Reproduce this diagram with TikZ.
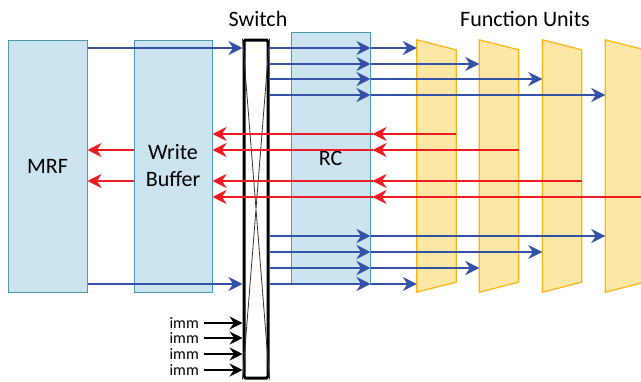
\documentclass[tikz,border=0pt]{standalone}
\usepackage{fontspec}
\setmainfont{Carlito}
\usetikzlibrary{shapes, positioning, arrows.meta, calc}
\definecolor{busblue}{RGB}{52,83,166}
\definecolor{busred}{RGB}{237,28,36}
\definecolor{boxfill}{RGB}{203,228,240}
\definecolor{boxline}{RGB}{75,155,175}
\definecolor{fufill}{RGB}{252,231,164}
\definecolor{fuline}{RGB}{252,180,20}

\begin{document}
\begin{tikzpicture}[x=1pt, y=-1pt, font=\fontsize{22}{26}\selectfont]
\tikzset{regbox/.style={draw=boxline, fill=boxfill, line width=1pt, rectangle, minimum width=79pt, minimum height=252pt, inner sep=0pt, align=center}, fuslot/.style={rectangle, minimum width=39pt, minimum height=252pt, inner sep=0pt}, fushape/.style={draw=fuline, fill=fufill, line width=1.2pt}, xbar/.style={draw=black, fill=white, line width=3pt, rounded corners=1.5pt, minimum width=24pt, minimum height=338pt, inner sep=0pt}, fwd/.style={draw=busblue, line width=2.8pt, -{Stealth[length=14pt, width=14pt, inset=4.5pt]}}, back/.style={draw=busred, line width=2.8pt, -{Stealth[length=14pt, width=14pt, inset=4.5pt]}}, immarrow/.style={draw=black, line width=2.8pt, -{Stealth[length=13pt, width=13pt, inset=4.5pt]}}}
\useasboundingbox (0,0) rectangle (641,381);
\node[regbox] (mrf) at (47.5,166) {MRF};
\node[regbox, minimum width=78pt] (wb) at (173,166) {Write\\[1pt]Buffer};
\node[regbox] (rc) at (330.5,158) {RC};
\node[xbar] (sw) at (256,209) {};
\draw[line width=0.8pt, black!80] (sw.north west) -- (sw.south east) (sw.north east) -- (sw.south west);
\node[fuslot] (fu1) at (436.5,166) {}; \node[fuslot] (fu2) at (499,166) {};
\node[fuslot] (fu3) at (562,166) {}; \node[fuslot] (fu4) at (625,166) {};
\foreach \f in {fu1, fu2, fu3, fu4}
  \draw[fushape] (\f.north west) -- ($(\f.north east)+(0,10)$) -- ($(\f.south east)+(0,-10)$) -- (\f.south west) -- cycle;
\node (swlabel) at (258,19) {Switch};
\node (fulabel) at (525,19) {Function Units};
% register file to switch
\foreach \yy in {48, 284} {
  \coordinate (l) at (0,\yy);
  \draw[fwd] (mrf.east |- l) -- (sw.west |- l);
}
% switch to function units
\foreach \yy/\f in {48/fu1, 64/fu2, 79/fu3, 95/fu4, 236/fu4, 252/fu3, 268/fu2, 284/fu1} {
  \coordinate (l) at (0,\yy);
  \draw[fwd] (sw.east |- l) -- (rc.east |- l);
  \draw[fwd] (rc.east |- l) -- (\f.west |- l);
}
% results back
\foreach \yy/\f in {134/fu1, 150/fu2, 181/fu3, 197/fu4} {
  \coordinate (l) at (0,\yy);
  \draw[back] (\f.east |- l) -- ($(rc.east |- l)+(2,0)$);
  \draw[back] ($(rc.east |- l)+(2,0)$) -- (wb.east |- l);
}
\foreach \yy in {150, 181} {
  \coordinate (l) at (0,\yy);
  \draw[back] (wb.west |- l) -- (mrf.east |- l);
}
% immediates
\foreach \yy [count=\i] in {323, 338, 354, 370} {
  \node[left, inner sep=0pt, font=\fontsize{16}{18}\selectfont] (imm\i) at (199,\yy) {imm};
  \draw[immarrow] ($(imm\i.east)+(5,0)$) -- (sw.west |- imm\i);
}
\end{tikzpicture}
\end{document}
